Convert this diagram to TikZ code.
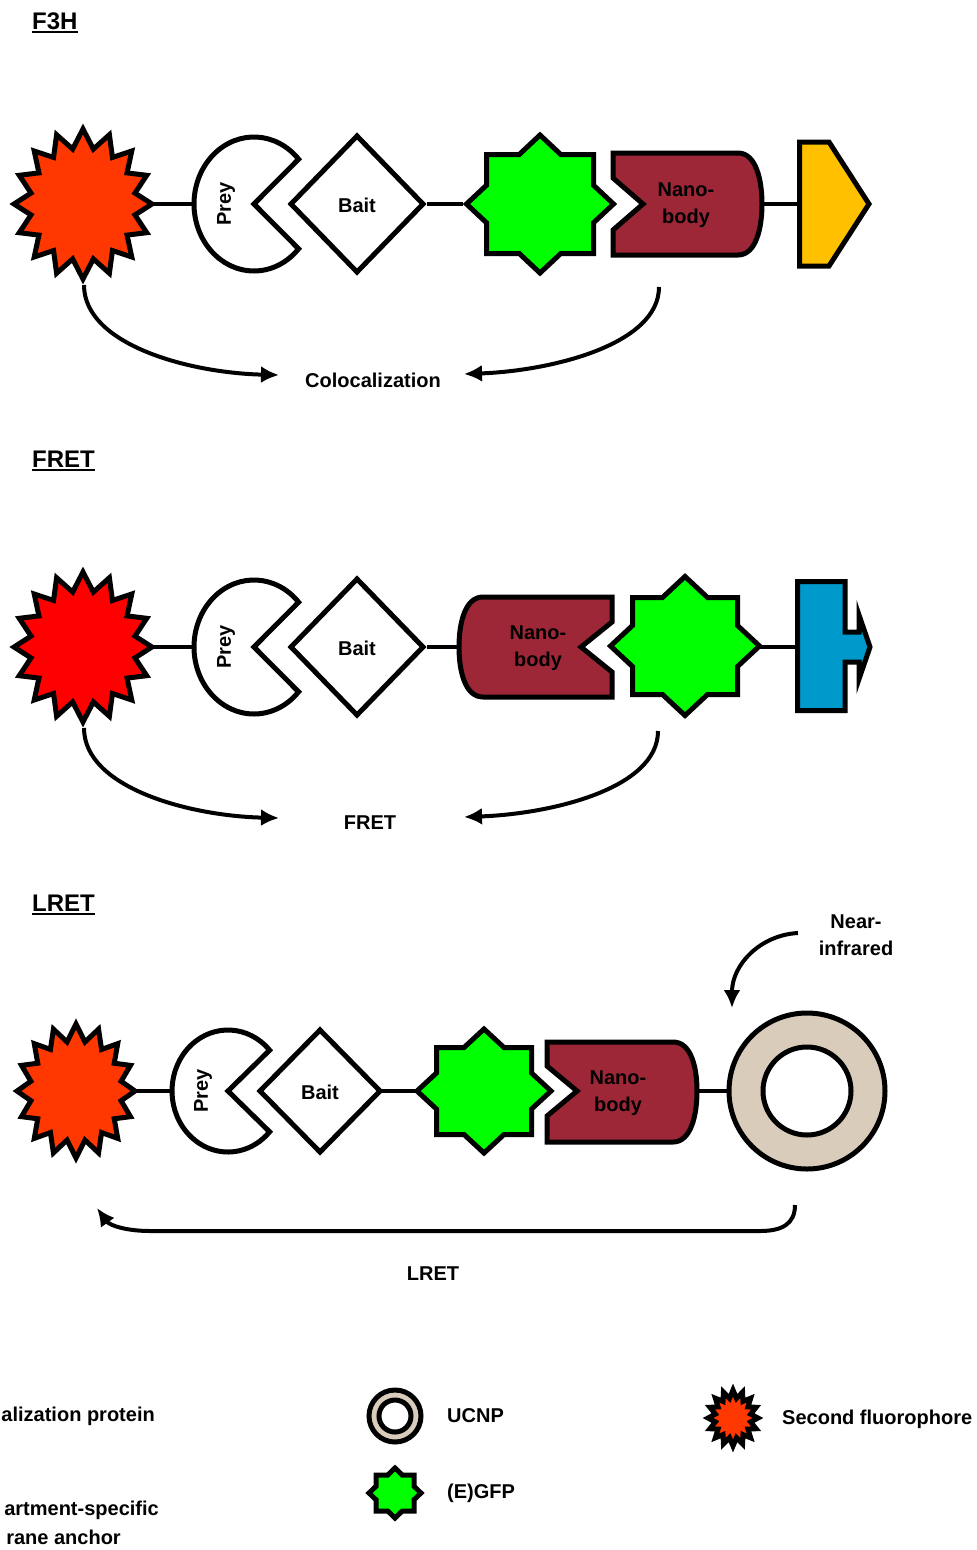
\documentclass[tikz,border=0pt]{standalone}
\usepackage{fontspec}
\setmainfont{Liberation Sans}
\usetikzlibrary{arrows.meta}
\definecolor{fluor}{RGB}{255,55,0}
\definecolor{redfl}{RGB}{255,0,0}
\definecolor{gfpgreen}{RGB}{0,255,0}
\definecolor{nanored}{RGB}{157,39,54}
\definecolor{locyellow}{RGB}{255,192,0}
\definecolor{anchorblue}{RGB}{0,153,204}
\definecolor{ucnptan}{RGB}{217,204,187}
\tikzset{
  shp/.style={draw=black, line width=5pt, line join=miter},
  link/.style={draw=black, line width=4.5pt},
  curvearrow/.style={draw=black, line width=4pt, -{Latex[length=18pt,width=17pt]}},
  lbl/.style={font=\fontsize{20}{27}\selectfont\bfseries, inner sep=0pt, align=center},
  head/.style={font=\fontsize{24}{28}\selectfont\bfseries, inner sep=0pt, anchor=base west},
  ulin/.style={draw=black, line width=2.5pt}
}
% #1 fill, #2 cx, #3 cy, #4 rx out, #5 ry out, #6 rx in, #7 ry in
\newcommand\mkburst[7]{%
  \draw[shp,fill=#1] ({#2},{#3-#5}) \foreach \k in {1,...,31}{ -- ({#2+(#6+(#4-#6)*(1+cos(\k*180))/2)*sin(\k*11.25)},{#3-(#7+(#5-#7)*(1+cos(\k*180))/2)*cos(\k*11.25)}) } -- cycle;}
% #1 cx, #2 cy, #3 diamond hx, #4 diamond hy, #5 square hx, #6 square hy
\newcommand\mkgfp[6]{%
  \pgfmathsetmacro\mkga{#3*(1-#6/#4)}%
  \pgfmathsetmacro\mkgb{#4*(1-#5/#3)}%
  \draw[shp,fill=gfpgreen] ({#1},{#2-#4}) -- ({#1+\mkga},{#2-#6}) -- ({#1+#5},{#2-#6}) -- ({#1+#5},{#2-\mkgb}) -- ({#1+#3},{#2}) -- ({#1+#5},{#2+\mkgb}) -- ({#1+#5},{#2+#6}) -- ({#1+\mkga},{#2+#6}) -- ({#1},{#2+#4}) -- ({#1-\mkga},{#2+#6}) -- ({#1-#5},{#2+#6}) -- ({#1-#5},{#2+\mkgb}) -- ({#1-#3},{#2}) -- ({#1-#5},{#2-\mkgb}) -- ({#1-#5},{#2-#6}) -- ({#1-\mkga},{#2-#6}) -- cycle;}
% #1 cx, #2 cy, #3 rx, #4 ry
\newcommand\mkpac[4]{%
  \draw[shp,fill=white] ({#1},{#2}) -- ++({#3*cos(42)},{-#4*sin(42)}) arc[start angle=-42, end angle=-318, x radius=#3, y radius=#4] -- cycle;}
% #1 cx, #2 cy, #3 hx, #4 hy
\newcommand\mkbait[4]{%
  \draw[shp,fill=white] ({#1-#3},{#2}) -- ({#1},{#2-#4}) -- ({#1+#3},{#2}) -- ({#1},{#2+#4}) -- cycle;}
\begin{document}
\begin{tikzpicture}[x=1pt,y=-1pt]
\useasboundingbox (0,0) rectangle (977,1550);

% ---------- headings ----------
\node[head] (hf3h) at (32,29) {F3H};
\draw[ulin] ([yshift=-3pt]hf3h.base west) -- ([yshift=-3pt]hf3h.base east);
\node[head] (hfret) at (32,467) {FRET};
\draw[ulin] ([yshift=-3pt]hfret.base west) -- ([yshift=-3pt]hfret.base east);
\node[head] (hlret) at (32,911) {LRET};
\draw[ulin] ([yshift=-3pt]hlret.base west) -- ([yshift=-3pt]hlret.base east);

% ---------- row 1 : F3H ----------
\coordinate (s1E) at (151,204);
\coordinate (p1W) at (194,204);
\coordinate (b1E) at (427,204);
\coordinate (g1W) at (463,204);
\coordinate (n1E) at (762,204);
\coordinate (y1W) at (800,204);
\coordinate (s1S) at (84,285);
\coordinate (c1R) at (659,287);
\coordinate (a1L) at (279,375);
\coordinate (a1R) at (464,374);
\draw[link] (s1E) -- (p1W);
\draw[link] (b1E) -- (g1W);
\draw[link] (n1E) -- (y1W);
\mkburst{fluor}{83}{204}{69}{75}{53}{56}
\mkpac{254}{204}{60}{67}
\mkbait{357}{204}{66}{68}
\mkgfp{540}{204}{73.5}{69}{53.5}{49.5}
\draw[shp,fill=nanored] (613,153) -- (738,153) .. controls (756,153) and (762,180) .. (762,204) .. controls (762,228) and (756,255) .. (738,255) -- (613,255) -- (613,230) -- (643,204) -- (613,178) -- cycle;
\draw[shp,fill=locyellow] (799.5,142) -- (829,142) -- (869,204) -- (829,266) -- (799.5,266) -- cycle;
\node[lbl, rotate=90] (prey1) at (226,204) {Prey};
\node[lbl] (bait1) at (357,205) {Bait};
\node[lbl] (nano1) at (686,205) {Nano-\\body};
\node[lbl] (coloc) at (373,380) {Colocalization};
\draw[curvearrow] (s1S) .. controls (84,345) and (190,373) .. (a1L);
\draw[curvearrow] (c1R) .. controls (659,345) and (550,371) .. (a1R);

% ---------- row 2 : FRET ----------
\coordinate (s2E) at (151,647);
\coordinate (p2W) at (194,647);
\coordinate (b2E) at (427,647);
\coordinate (n2W) at (459,647);
\coordinate (g2E) at (760,647);
\coordinate (t2W) at (798,647);
\coordinate (s2S) at (84,728);
\coordinate (c2R) at (658,731);
\coordinate (a2L) at (279,818);
\coordinate (a2R) at (464,817);
\draw[link] (s2E) -- (p2W);
\draw[link] (b2E) -- (n2W);
\draw[link] (g2E) -- (t2W);
\mkburst{redfl}{83}{647}{69}{75}{53}{56}
\mkpac{254}{647}{60}{67}
\mkbait{357}{647}{66}{68}
\draw[shp,fill=nanored] (612,597) -- (483,597) .. controls (465,597) and (459,623) .. (459,647) .. controls (459,671) and (465,697) .. (483,697) -- (612,697) -- (612,672) -- (581,647) -- (612,622) -- cycle;
\mkgfp{685}{646}{74.5}{69.5}{52.5}{48.5}
\draw[shp,fill=anchorblue] (797.5,581.5) -- (845,581.5) -- (845,632) -- (859,632) -- (859,615) -- (870,647) -- (859,679) -- (859,662) -- (845,662) -- (845,710.5) -- (797.5,710.5) -- cycle;
\node[lbl, rotate=90] (prey2) at (226,647) {Prey};
\node[lbl] (bait2) at (357,648) {Bait};
\node[lbl] (nano2) at (538,648) {Nano-\\body};
\node[lbl] (fret) at (370,823) {FRET};
\draw[curvearrow] (s2S) .. controls (84,788) and (190,816) .. (a2L);
\draw[curvearrow] (c2R) .. controls (658,789) and (550,814) .. (a2R);

% ---------- row 3 : LRET ----------
\coordinate (s3E) at (134,1091);
\coordinate (p3W) at (172,1091);
\coordinate (b3E) at (381,1091);
\coordinate (g3W) at (416,1091);
\coordinate (n3E) at (697,1091);
\coordinate (u3W) at (729,1091);
\coordinate (lrR) at (795,1205);
\coordinate (lrL) at (97,1208);
\coordinate (nirS) at (798,933);
\coordinate (nirE) at (732,1008);
\draw[link] (s3E) -- (p3W);
\draw[link] (b3E) -- (g3W);
\draw[link] (n3E) -- (u3W);
\mkburst{fluor}{76}{1091}{59}{67}{46}{50}
\mkpac{228}{1091}{56}{61}
\mkbait{320}{1091}{60}{61}
\mkgfp{484}{1091}{67}{62}{47.5}{43.5}
\draw[shp,fill=nanored] (547,1042) -- (673,1042) .. controls (691,1042) and (697,1067) .. (697,1091) .. controls (697,1115) and (691,1142) .. (673,1142) -- (547,1142) -- (547,1116) -- (577,1091) -- (547,1066) -- cycle;
\draw[shp,fill=ucnptan] (807,1091) circle[radius=78];
\draw[shp,fill=white] (807,1091) circle[radius=44];
\node[lbl, rotate=90] (prey3) at (203,1091) {Prey};
\node[lbl] (bait3) at (320,1092) {Bait};
\node[lbl] (nano3) at (618,1093) {Nano-\\body};
\node[lbl] (nir) at (856,935) {Near-\\infrared};
\node[lbl] (lret) at (433,1274) {LRET};
\draw[curvearrow] (nirS) .. controls (760,935) and (732,965) .. (nirE);
\draw[curvearrow] (lrR) .. controls (795,1224) and (782,1231) .. (760,1231) -- (150,1231) .. controls (128,1231) and (110,1226) .. (lrL);

% ---------- legend ----------
\draw[shp,fill=ucnptan] (395,1416) circle[radius=26];
\draw[shp,fill=white] (395,1416) circle[radius=16];
\mkgfp{395}{1493}{26}{25}{19}{18}
\mkburst{fluor}{733}{1418}{25}{28}{18}{20}
\node[lbl, anchor=west] (lgucnp) at (447,1416) {UCNP};
\node[lbl, anchor=west] (lggfp) at (447,1493) {(E)GFP};
\node[lbl, anchor=west] (lgsec) at (782,1419) {Second fluorophore};
\node[lbl, anchor=east] (lgloc) at (155,1416) {alization protein};
\node[lbl, anchor=east] (lgan1) at (159,1510) {artment-specific};
\node[lbl, anchor=east] (lgan2) at (121,1537) {rane anchor};
\end{tikzpicture}
\end{document}
